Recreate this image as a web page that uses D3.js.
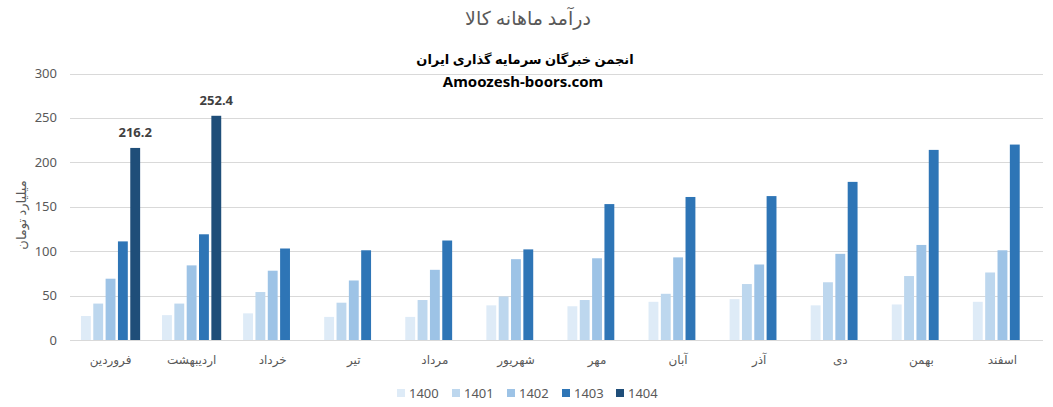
<!DOCTYPE html>
<html><head><meta charset="utf-8">
<script src="https://cdn.jsdelivr.net/npm/d3@7"></script>
<style>body{margin:0;background:#fff}svg{display:block}text{font-family:"Noto Sans","DejaVu Sans",sans-serif}</style>
</head><body><svg id="c" width="1053" height="407"></svg>
<script>
const months = ["فروردین","اردیبهشت","خرداد","تیر","مرداد","شهریور","مهر","آبان","آذر","دی","بهمن","اسفند"];
const years = ["1400","1401","1402","1403","1404"];
const colors = ["#DEEBF7","#BDD7EE","#9DC3E6","#2E75B6","#1F4E79"];
const v1400 = [27,28,30,26,26,39,38,43,46,39,40,43];
const v1401 = [41,41,54,42,45,49,45,52,63,65,72,76];
const v1402 = [69,84,78,67,79,91,92,93,85,97,107,101];
const v1403 = [111,119,103,101,112,102,153,161,162,178,214,220];
const v1404 = [216.2,252.4,null,null,null,null,null,null,null,null,null,null];
const yTicks = [0,50,100,150,200,250,300];
const series = [v1400,v1401,v1402,v1403,v1404];

const svg = d3.select("#c");
const L=70, R=1043, T=73.5, B=340;
const x = d3.scaleBand().domain(months).range([L,R]).paddingInner(0.27).paddingOuter(0.135);
const xs = d3.scaleBand().domain(years).range([0,x.bandwidth()]).paddingInner(0.2);
const y = d3.scaleLinear().domain([0,300]).range([B,T]);

// grid
svg.append("g").selectAll("line").data(yTicks).join("line")
  .attr("x1",L).attr("x2",R).attr("y1",d=>Math.round(y(d))+0.5).attr("y2",d=>Math.round(y(d))+0.5)
  .attr("stroke","#d9d9d9").attr("stroke-width",1);
// y labels
svg.append("g").selectAll("text").data(yTicks).join("text")
  .attr("x",57).attr("y",d=>y(d)+4.5).attr("text-anchor","end")
  .attr("font-family","Liberation Sans, Arial, sans-serif")
  .attr("font-size",13).attr("fill","#595959").text(d=>d);

// bars
series.forEach((s,i)=>{
  svg.append("g").selectAll("rect").data(months.map((m,j)=>({m,v:s[j]})).filter(d=>d.v!=null)).join("rect")
    .attr("x",d=>x(d.m)+xs(years[i])).attr("width",xs.bandwidth())
    .attr("y",d=>y(d.v)).attr("height",d=>B-y(d.v)).attr("fill",colors[i]);
});
// data labels for 1404
svg.append("g").selectAll("text").data(months.map((m,j)=>({m,v:v1404[j]})).filter(d=>d.v!=null)).join("text")
  .attr("x",d=>x(d.m)+xs("1404")+xs.bandwidth()/2).attr("y",d=>y(d.v)-11)
  .attr("text-anchor","middle").attr("font-size",13).attr("font-weight","bold").attr("fill","#404040")
  .text(d=>d.v.toFixed(1));

// x labels
svg.append("g").selectAll("text").data(months).join("text")
  .attr("x",d=>x(d)+x.bandwidth()/2).attr("y",364).attr("text-anchor","middle")
  .attr("font-size",12).attr("fill","#595959").text(d=>d);

// titles
svg.append("text").attr("x",528).attr("y",25).attr("text-anchor","middle")
  .attr("font-size",19).attr("fill","#595959").text("درآمد ماهانه کالا");
svg.append("text").attr("x",525).attr("y",64).attr("text-anchor","middle")
  .attr("font-size",13).attr("font-weight","bold").attr("fill","#000").text("انجمن خبرگان سرمایه گذاری ایران");
svg.append("text").attr("x",523).attr("y",87).attr("text-anchor","middle")
  .attr("font-size",15).attr("font-weight","bold").attr("fill","#000").text("Amoozesh-boors.com");
// y title
svg.append("text").attr("transform","translate(26,215) rotate(-90)").attr("text-anchor","middle")
  .attr("font-size",13).attr("fill","#595959").text("میلیارد تومان");

// legend
const lg = svg.append("g");
const lx = [397,452,507,562,616];
years.forEach((yr,i)=>{
  lg.append("rect").attr("x",lx[i]).attr("y",389).attr("width",8).attr("height",8).attr("fill",colors[i]);
  lg.append("text").attr("x",lx[i]+12).attr("y",397.5).attr("font-family","Liberation Sans, Arial, sans-serif")
    .attr("font-size",13).attr("fill","#595959").text(yr);
});
</script></body></html>
